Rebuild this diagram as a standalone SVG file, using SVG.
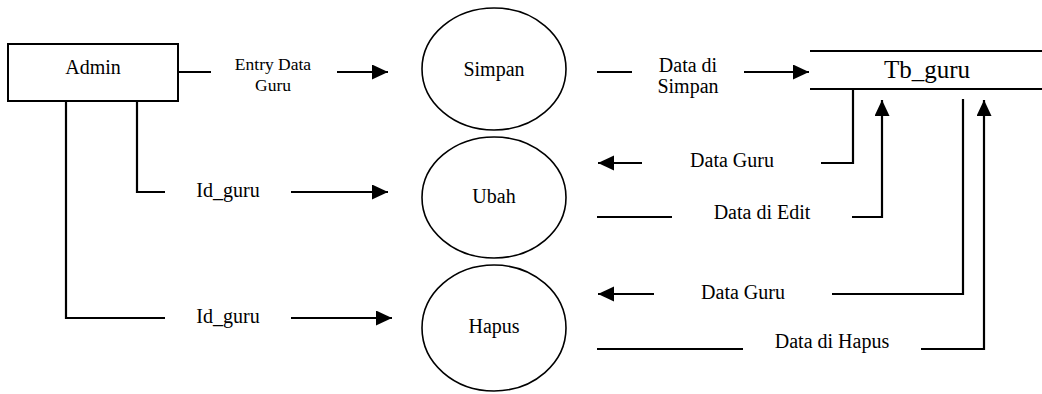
<svg xmlns="http://www.w3.org/2000/svg" width="1042" height="394" viewBox="0 0 1042 394" font-family="'Liberation Serif','Times New Roman',serif">
<style>
text{font-family:"Liberation Serif","Times New Roman",serif;fill:#000;text-anchor:middle;font-size:20px}
.sm{font-size:17.5px}
.big{font-size:25px}
.ln{fill:none;stroke:#000;stroke-width:2.2}
.ar{fill:none;stroke:#000;stroke-width:2.2;marker-end:url(#ah)}
.proc{fill:#fff;stroke:#000;stroke-width:1.6}
</style>
<defs>
<marker id="ah" markerUnits="userSpaceOnUse" markerWidth="17" markerHeight="16" refX="16" refY="7.5" orient="auto" viewBox="0 0 17 16">
<path d="M0,0 L16,7.5 L0,15 z" fill="#000"/>
</marker>
</defs>
<rect width="1042" height="394" fill="#fff"/>
<g id="connectors">
<line class="ln" x1="178" y1="72" x2="211" y2="72"/>
<line class="ar" x1="337" y1="72" x2="388" y2="72"/>
<polyline class="ln" points="137,101 137,192 165,192"/>
<line class="ar" x1="291" y1="192" x2="388" y2="192"/>
<polyline class="ln" points="66,101 66,318 165,318"/>
<line class="ar" x1="291" y1="318" x2="392" y2="318"/>
<line class="ln" x1="597" y1="72" x2="632" y2="72"/>
<line class="ar" x1="744" y1="72" x2="809" y2="72"/>
<polyline class="ln" points="853,89 853,163 821,163"/>
<line class="ar" x1="642" y1="163" x2="598" y2="163"/>
<line class="ln" x1="597" y1="217" x2="672" y2="217"/>
<polyline class="ar" points="852,217 882,217 882,100"/>
<polyline class="ln" points="963,99 963,294 832,294"/>
<line class="ar" x1="654" y1="294" x2="598" y2="294"/>
<line class="ln" x1="597" y1="349" x2="743" y2="349"/>
<polyline class="ar" points="921,349 984,349 984,100"/>
<text class="sm" x="273" y="70">Entry Data</text>
<text class="sm" x="273" y="91">Guru</text>
<text x="228" y="197">Id_guru</text>
<text x="228" y="323">Id_guru</text>
<text x="688" y="72">Data di</text>
<text x="688" y="93">Simpan</text>
<text x="732" y="167">Data Guru</text>
<text x="762" y="219">Data di Edit</text>
<text x="743" y="299">Data Guru</text>
<text x="832" y="348">Data di Hapus</text>
</g>
<g id="admin">
<rect x="8" y="44" width="170" height="57" fill="#fff" stroke="#000" stroke-width="2"/>
<text x="93" y="74">Admin</text>
</g>
<g id="simpan">
<ellipse class="proc" cx="494" cy="69" rx="72" ry="61"/>
<text x="494" y="76">Simpan</text>
</g>
<g id="ubah">
<ellipse class="proc" cx="494" cy="197.5" rx="72" ry="60.5"/>
<text x="494" y="203">Ubah</text>
</g>
<g id="hapus">
<ellipse class="proc" cx="494" cy="328" rx="72" ry="63"/>
<text x="494" y="333">Hapus</text>
</g>
<g id="tb_guru">
<line class="ln" x1="810" y1="51" x2="1042" y2="51"/>
<line class="ln" x1="810" y1="89" x2="1042" y2="89"/>
<text class="big" x="927" y="78">Tb_guru</text>
</g>
</svg>
